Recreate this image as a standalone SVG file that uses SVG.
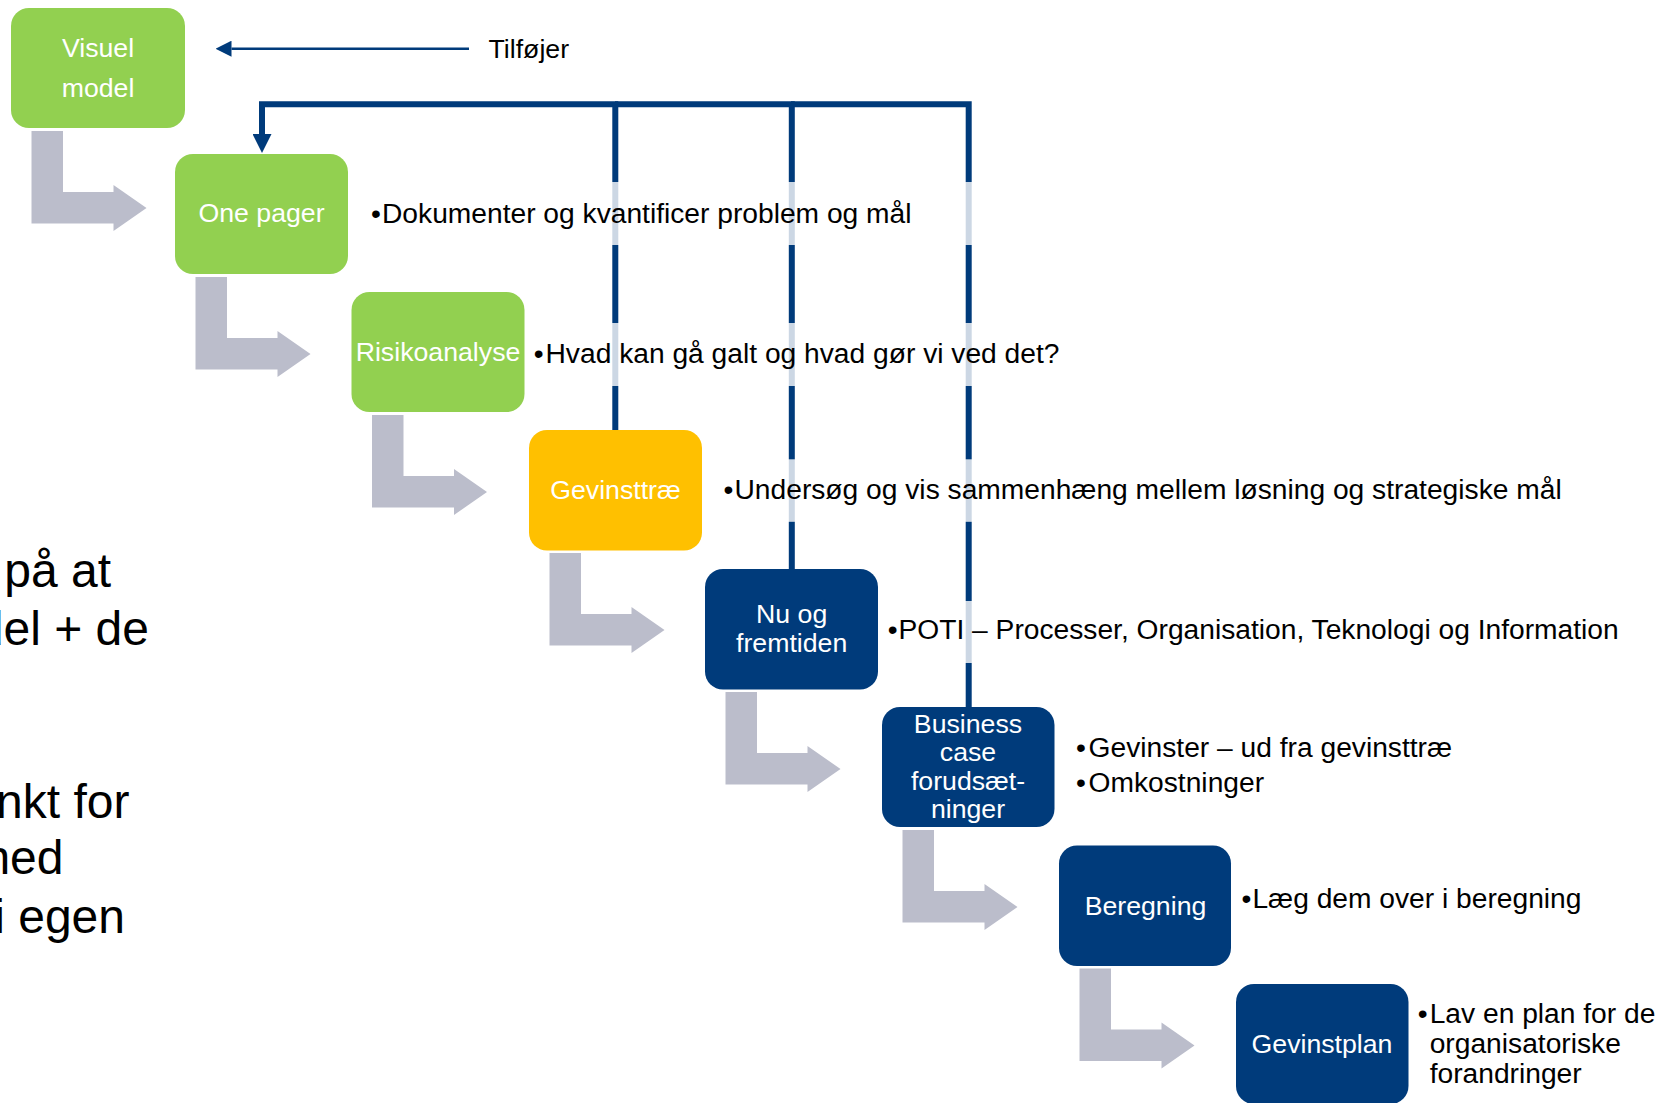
<svg xmlns="http://www.w3.org/2000/svg" width="1661" height="1103" viewBox="0 0 1661 1103">
  <style>
    text { font-family: "Liberation Sans", Arial, sans-serif; }
    .green { fill: #92D050; }
    .gold { fill: #FFC000; }
    .navy { fill: #003B7B; }
    .label { fill: #FFFFFF; font-size: 26.7px; text-anchor: middle; }
    .note { fill: #000000; font-size: 28.2px; }
    .side { fill: #000000; font-size: 48px; text-anchor: end; }
    .veil { fill: #FFFFFF; fill-opacity: 0.8; }
    .link { fill: none; stroke: #003B7B; stroke-width: 6; stroke-linejoin: miter; }
    .thin { fill: none; stroke: #003B7B; stroke-width: 2.5; }
    .step { fill: #BBBDCB; }
  </style>
  <defs>
    <!-- grey elbow arrow leading from one step to the next, placed at the source box origin -->
    <path id="step" d="M20.5,123 H52 V184 H102.5 V177 L135.5,200 L102.5,223 V215.5 H20.5 Z"/>
    <marker id="headBig" markerUnits="userSpaceOnUse" markerWidth="19" markerHeight="19" viewBox="0 0 18 18" refX="0" refY="9" orient="auto">
      <path d="M0,0 L18,9 L0,18 Z" fill="#003B7B"/>
    </marker>
    <marker id="headSmall" markerUnits="userSpaceOnUse" markerWidth="16" markerHeight="16" viewBox="0 0 15.5 15.6" refX="0" refY="7.8" orient="auto">
      <path d="M0,0 L15.5,7.8 L0,15.6 Z" fill="#003B7B"/>
    </marker>
  </defs>

  <!-- partly visible body text at the left edge -->
  <g id="side-text">
    <text class="side" x="111" y="587">på at</text>
    <text class="side" x="149" y="645">del + de</text>
    <text class="side" x="129.5" y="818">nkt for</text>
    <text class="side" x="63.5" y="874">ned</text>
    <text class="side" x="125" y="933">i egen</text>
  </g>

  <g id="connectors">
    <use href="#step" class="step" x="11" y="8"/>
    <use href="#step" class="step" x="175" y="154"/>
    <use href="#step" class="step" x="351.5" y="292"/>
    <use href="#step" class="step" x="529" y="430"/>
    <use href="#step" class="step" x="705" y="569"/>
    <use href="#step" class="step" x="882" y="707"/>
    <use href="#step" class="step" x="1059" y="845.5"/>
    <!-- feedback lines back to the one pager -->
    <path class="link" d="M615.3,430 V104.3 H262 V134" marker-end="url(#headBig)"/>
    <path class="link" d="M791.8,569 V104.3 H615"/>
    <path class="link" d="M968.7,707 V104.3 H791"/>
    <!-- "Tilføjer" pointer -->
    <path class="thin" d="M469,48.7 H231.5" marker-end="url(#headSmall)"/>
  </g>

  <text x="488.5" y="58" style="font-size:26.7px;fill:#000000">Tilføjer</text>

  <g id="node-visuel-model">
    <rect class="green" x="11" y="8" width="174" height="120" rx="18"/>
    <text class="label" x="98" y="57.3">Visuel</text>
    <text class="label" x="98" y="96.7">model</text>
  </g>
  <g id="node-one-pager">
    <rect class="green" x="175" y="154" width="173" height="120" rx="18"/>
    <text class="label" x="261.5" y="222">One pager</text>
  </g>
  <g id="node-risikoanalyse">
    <rect class="green" x="351.5" y="292" width="173" height="120" rx="18"/>
    <text class="label" x="438" y="360.7">Risikoanalyse</text>
  </g>
  <g id="node-gevinsttrae">
    <rect class="gold" x="529" y="430" width="173" height="120.5" rx="18"/>
    <text class="label" x="615.5" y="498.5">Gevinsttræ</text>
  </g>
  <g id="node-nu-og-fremtiden">
    <rect class="navy" x="705" y="569" width="173" height="120.5" rx="18"/>
    <text class="label" x="791.7" y="623">Nu og</text>
    <text class="label" x="791.7" y="651.7">fremtiden</text>
  </g>
  <g id="node-business-case">
    <rect class="navy" x="882" y="707" width="172.5" height="120" rx="18"/>
    <text class="label" x="968" y="733">Business</text>
    <text class="label" x="968" y="761.3">case</text>
    <text class="label" x="968" y="789.5">forudsæt-</text>
    <text class="label" x="968" y="817.5">ninger</text>
  </g>
  <g id="node-beregning">
    <rect class="navy" x="1059" y="845.5" width="172" height="120.5" rx="18"/>
    <text class="label" x="1145.5" y="915">Beregning</text>
  </g>
  <g id="node-gevinstplan">
    <rect class="navy" x="1236" y="984" width="172.5" height="120" rx="18"/>
    <text class="label" x="1322" y="1052.7">Gevinstplan</text>
  </g>

  <g id="note-one-pager">
    <rect class="veil" x="362" y="182" width="640" height="63"/>
    <text class="note" y="222.5"><tspan x="371">•</tspan><tspan x="382">Dokumenter og kvantificer problem og mål</tspan></text>
  </g>
  <g id="note-risikoanalyse">
    <rect class="veil" x="530" y="323" width="570" height="63"/>
    <text class="note" y="362.7"><tspan x="533.8">•</tspan><tspan x="545.5">Hvad kan gå galt og hvad gør vi ved det?</tspan></text>
  </g>
  <g id="note-gevinsttrae">
    <rect class="veil" x="715" y="459.3" width="880" height="62.5"/>
    <text class="note" y="499.3"><tspan x="723.4">•</tspan><tspan x="734.5">Undersøg og vis sammenhæng mellem løsning og strategiske mål</tspan></text>
  </g>
  <g id="note-nu-og-fremtiden">
    <rect class="veil" x="883" y="601" width="772" height="62"/>
    <text class="note" y="639"><tspan x="887.8">•</tspan><tspan x="898.5">POTI – Processer, Organisation, Teknologi og Information</tspan></text>
  </g>
  <g id="note-business-case">
    <text class="note" y="756.7"><tspan x="1076">•</tspan><tspan x="1088.6">Gevinster – ud fra gevinsttræ</tspan></text>
    <text class="note" y="791.7"><tspan x="1076">•</tspan><tspan x="1088.6">Omkostninger</tspan></text>
  </g>
  <g id="note-beregning">
    <text class="note" y="908.3"><tspan x="1241.6">•</tspan><tspan x="1252.4">Læg dem over i beregning</tspan></text>
  </g>
  <g id="note-gevinstplan">
    <text class="note" y="1023.3"><tspan x="1417.8">•</tspan><tspan x="1429.7">Lav en plan for de</tspan></text>
    <text class="note" x="1429.7" y="1052.5">organisatoriske</text>
    <text class="note" x="1429.7" y="1082.5">forandringer</text>
  </g>
</svg>
